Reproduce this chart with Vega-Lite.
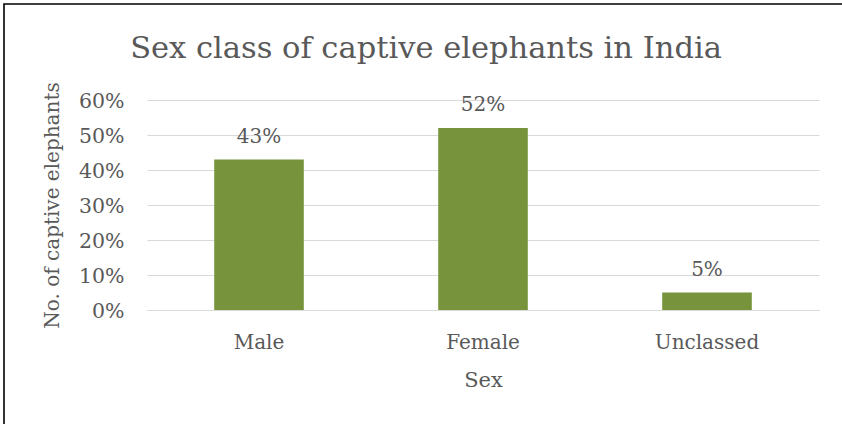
{
  "$schema": "https://vega.github.io/schema/vega-lite/v6.json",
  "width": 844,
  "height": 428,
  "autosize": {"type": "none"},
  "padding": {"left": 4, "top": 4, "right": 0, "bottom": 0},
  "background": "white",
  "config": {
    "view": {"stroke": "#000000", "strokeWidth": 1.6},
    "font": "DejaVu Serif"
  },
  "title": {
    "text": "Sex class of captive elephants in India",
    "anchor": "middle",
    "frame": "group",
    "offset": -84,
    "baseline": "alphabetic",
    "font": "DejaVu Serif",
    "fontSize": 30.5,
    "fontWeight": "normal",
    "color": "#595959"
  },
  "data": {
    "values": [
      {"sex": "Male", "share": 0.43},
      {"sex": "Female", "share": 0.52},
      {"sex": "Unclassed", "share": 0.05}
    ]
  },
  "encoding": {
    "x": {
      "field": "sex",
      "type": "nominal",
      "sort": null,
      "scale": {"range": [143, 815], "paddingInner": 0.6, "paddingOuter": 0.3},
      "axis": {
        "title": "Sex",
        "orient": "bottom",
        "offset": -122,
        "ticks": false,
        "tickSize": 0,
        "grid": false,
        "domainColor": "#D9D9D9",
        "domainWidth": 1,
        "labelAngle": 0,
        "labelFont": "DejaVu Serif",
        "labelFontSize": 20,
        "labelColor": "#595959",
        "labelPadding": 38,
        "labelBaseline": "alphabetic",
        "titleFont": "DejaVu Serif",
        "titleFontSize": 21,
        "titleFontWeight": "normal",
        "titleColor": "#595959",
        "titleY": 76,
        "titleBaseline": "alphabetic"
      }
    },
    "y": {
      "field": "share",
      "type": "quantitative",
      "scale": {"domain": [0, 0.6], "range": [306, 96], "nice": false, "zero": true},
      "axis": {
        "title": "No. of captive elephants",
        "orient": "left",
        "values": [0, 0.1, 0.2, 0.3, 0.4, 0.5, 0.6],
        "format": ".0%",
        "ticks": false,
        "tickSize": 0,
        "domain": false,
        "grid": true,
        "gridColor": "#D9D9D9",
        "gridWidth": 1,
        "labelPadding": -120,
        "labelAlign": "right",
        "labelBaseline": "middle",
        "labelOffset": 1,
        "labelFont": "DejaVu Serif",
        "labelFontSize": 20.5,
        "labelColor": "#595959",
        "titleFont": "DejaVu Serif",
        "titleFontSize": 20,
        "titleFontWeight": "normal",
        "titleColor": "#595959",
        "titleX": 54.5,
        "titleY": 201,
        "titleAngle": -90,
        "titleAlign": "center",
        "titleBaseline": "alphabetic"
      }
    }
  },
  "layer": [
    {"mark": {"type": "bar", "color": "#77933C"}},
    {
      "mark": {
        "type": "text",
        "dy": -17,
        "baseline": "alphabetic",
        "align": "center",
        "font": "DejaVu Serif",
        "fontSize": 20,
        "color": "#595959"
      },
      "encoding": {
        "text": {"field": "share", "type": "quantitative", "format": ".0%"}
      }
    }
  ]
}
